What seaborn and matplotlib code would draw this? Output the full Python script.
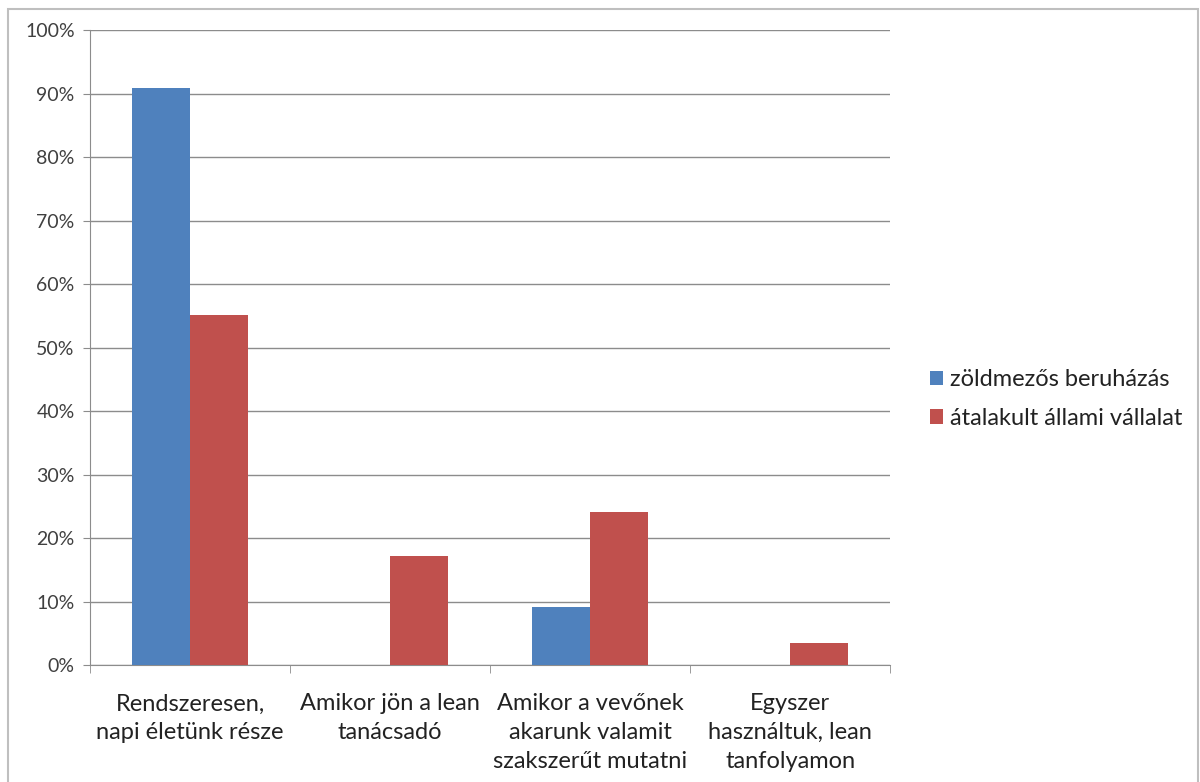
import matplotlib
matplotlib.use("Agg")
import matplotlib.pyplot as plt
import matplotlib.patches as mpatches
import seaborn as sns
import pandas as pd
import numpy as np

categories = ["Rendszeresen,\nnapi életünk része",
              "Amikor jön a lean\ntanácsadó",
              "Amikor a vevőnek\nakarunk valamit\nszakszerűt mutatni",
              "Egyszer\nhasználtuk, lean\ntanfolyamon"]
series_names = ["zöldmezős beruházás", "átalakult állami vállalat"]
zoldmezos = [90.9, 0.0, 9.1, 0.0]
atalakult = [55.2, 17.2, 24.1, 3.4]
yticks = [0, 10, 20, 30, 40, 50, 60, 70, 80, 90, 100]
colors = ["#4F81BD", "#C0504D"]

df = pd.DataFrame({
    "cat": categories * 2,
    "series": [series_names[0]] * 4 + [series_names[1]] * 4,
    "value": zoldmezos + atalakult,
})

sns.set_style("white")
plt.rcParams['font.family'] = ['Lato', 'DejaVu Sans']

fig = plt.figure(figsize=(12, 7.82), dpi=100)
ax = fig.add_axes([0.075, 0.1496, 0.667, 0.812])

sns.barplot(data=df, x="cat", y="value", hue="series", palette=colors,
            width=0.58, ax=ax, saturation=1, errorbar=None, zorder=3,
            linewidth=0)

ax.set_ylim(0, 100)
ax.set_xlim(-0.5, 3.5)
ax.set_yticks(yticks)
ax.set_yticklabels([f"{v}%" for v in yticks], fontsize=14, color="#404040")
ax.set_xticks(range(4))
ax.set_xticklabels(categories, fontsize=17, color="#222222", linespacing=1.45)
ax.set_xlabel("")
ax.set_ylabel("")

ax.yaxis.grid(True, color="#8c8c8c", linewidth=1, zorder=0)
ax.set_axisbelow(True)
for s in ["top", "right"]:
    ax.spines[s].set_visible(False)
ax.spines["left"].set_color("#8c8c8c")
ax.spines["bottom"].set_color("#8c8c8c")
ax.tick_params(axis="y", left=True, length=5, color="#8c8c8c", pad=6)
ax.tick_params(axis="x", bottom=False, pad=17)
# category boundary ticks
ax.set_xticks([-0.5, 0.5, 1.5, 2.5, 3.5], minor=True)
ax.tick_params(axis="x", which="minor", bottom=True, length=6, color="#8c8c8c")

leg = ax.legend(loc="center left", bbox_to_anchor=(918 / 1200, 1 - 399 / 782),
                bbox_transform=fig.transFigure, frameon=False,
                fontsize=17, handlelength=0.55, handleheight=0.55,
                handletextpad=0.3, labelspacing=0.75, borderpad=0)
for t in leg.get_texts():
    t.set_color("#222222")

border = mpatches.Rectangle((8 / 1200, -10 / 782), 1190 / 1200, 783 / 782,
                            transform=fig.transFigure, fill=False,
                            edgecolor="#bfbfbf", linewidth=1.5, clip_on=False)
fig.patches.append(border)

fig.savefig("out.png", dpi=100)
